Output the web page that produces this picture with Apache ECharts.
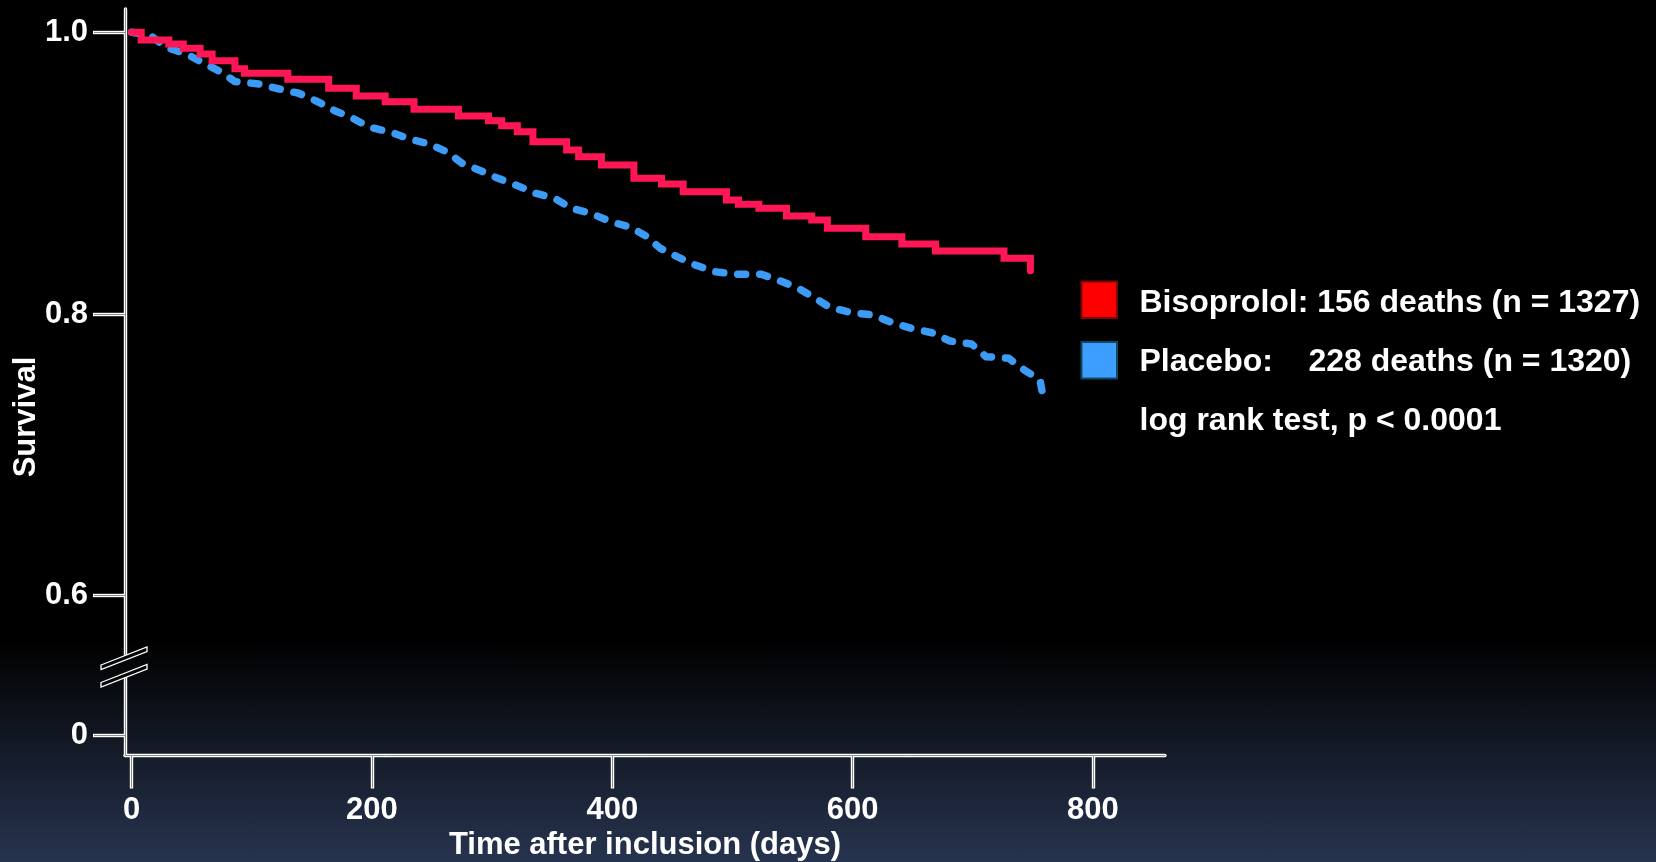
<!DOCTYPE html>
<html>
<head>
<meta charset="utf-8">
<script src="https://cdn.jsdelivr.net/npm/echarts@6/dist/echarts.min.js"></script>
<style>
  html, body { margin: 0; padding: 0; background: #000; }
  #chart {
    width: 1656px; height: 862px;
    background: linear-gradient(to bottom, #000 0%, #000 74%, #27344f 100%);
  }
</style>
</head>
<body>
<div id="chart"></div>
<script>
// Kaplan-Meier survival, Bisoprolol vs Placebo
const seriesNames = ['Bisoprolol', 'Placebo'];
const legendTexts = [
  'Bisoprolol: 156 deaths (n = 1327)',
  'Placebo:    228 deaths (n = 1320)'
];
const statText = 'log rank test, p < 0.0001';
const xTitle = 'Time after inclusion (days)';
const yTitle = 'Survival';

const xTicks = [0, 200, 400, 600, 800];
const yUpperTicks = [0.6, 0.8, 1.0];
const yLowerTicks = [0];

// Bisoprolol: step times (days) and survival after each step
const bisoDays = [0, 8, 31, 43, 57, 67, 86, 94, 130, 164, 187, 211, 235, 272, 297, 308, 321, 334, 362, 372,
  391, 418, 441, 459, 495, 505, 522, 545, 566, 579, 611, 641, 669, 726, 748];
const bisoSurv = [1.0, 0.9945, 0.9917, 0.9886, 0.9846, 0.9798, 0.974, 0.9709, 0.9666, 0.9602, 0.9548, 0.9507,
  0.9453, 0.9406, 0.9372, 0.9337, 0.9294, 0.9223, 0.9164, 0.9117, 0.9058, 0.8963, 0.8923, 0.8868, 0.8809,
  0.8779, 0.875, 0.8696, 0.8667, 0.8608, 0.8549, 0.8497, 0.8447, 0.8396, 0.8307];

// Placebo: survival estimates (days, survival)
const placDays = [0, 15, 29, 46, 60, 74, 86, 106, 123, 139, 155, 169, 183, 198, 216, 232, 248, 263, 275, 291,
  305, 321, 336, 352, 366, 382, 399, 415, 428, 440, 454, 469, 485, 504, 524, 540, 555, 569, 581, 599, 617,
  633, 649, 666, 681, 699, 711, 730, 743, 756, 759];
const placSurv = [1.0, 0.998, 0.9893, 0.9844, 0.978, 0.972, 0.965, 0.9633, 0.9597, 0.9567, 0.9507, 0.9443,
  0.9394, 0.9326, 0.929, 0.924, 0.9207, 0.9148, 0.907, 0.9015, 0.8963, 0.8911, 0.8857, 0.8821, 0.875, 0.8715,
  0.8655, 0.8616, 0.8554, 0.8466, 0.8407, 0.8348, 0.83, 0.8282, 0.8282, 0.8234, 0.8182, 0.8111, 0.8048,
  0.8009, 0.7993, 0.7938, 0.7898, 0.7867, 0.7808, 0.7787, 0.7697, 0.7685, 0.7602, 0.7531, 0.7389];

const FONT = '"Liberation Sans", Arial, Helvetica, sans-serif';
const X_MIN = -5.5, X_MAX = 860;
const UPPER_MIN = 0.5565, UPPER_MAX = 1.0165;   // upper (broken) segment of the survival axis
const LOWER_MIN = -0.01455, LOWER_MAX = 0.0419; // lower segment holding 0

const OUTER = '#ffffff', INNER = '#8e8e8e';
const labelStyle = { color: '#fff', fontSize: 31, fontWeight: 'bold', fontFamily: FONT };
const fmt = v => (v === 0 ? '0' : v.toFixed(1));

// each axis is drawn twice: a wide white stroke and a thin grey core on top
function xAxisPair(gridIndex) {
  const base = { gridIndex, type: 'value', min: X_MIN, max: X_MAX, position: 'bottom', offset: 0,
    splitLine: { show: false } };
  return [
    Object.assign({}, base, {
      axisLine: { show: true, onZero: false, lineStyle: { color: OUTER, width: 3.4 } },
      axisTick: { show: true, customValues: xTicks, length: 33, lineStyle: { color: OUTER, width: 3.4 } },
      axisLabel: Object.assign({ customValues: xTicks, margin: 39 }, labelStyle),
      name: xTitle, nameLocation: 'middle', nameGap: 74,
      nameTextStyle: { color: '#fff', fontSize: 31, fontWeight: 'bold', fontFamily: FONT }
    }),
    Object.assign({}, base, {
      z: 1,
      axisLine: { show: true, onZero: false, lineStyle: { color: INNER, width: 1 } },
      axisTick: { show: true, customValues: xTicks, length: 32, lineStyle: { color: INNER, width: 1 } },
      axisLabel: { show: false }
    })
  ];
}

function yAxisPair(gridIndex, min, max, ticks) {
  const base = { gridIndex, type: 'value', min, max, position: 'left', offset: 0,
    splitLine: { show: false } };
  return [
    Object.assign({}, base, {
      axisLine: { show: true, onZero: false, lineStyle: { color: OUTER, width: 3.4 } },
      axisTick: { show: true, customValues: ticks, length: 32, lineStyle: { color: OUTER, width: 3.4 } },
      axisLabel: Object.assign({ customValues: ticks, margin: 37, formatter: fmt }, labelStyle)
    }),
    Object.assign({}, base, {
      z: 1,
      axisLine: { show: true, onZero: false, lineStyle: { color: INNER, width: 1 } },
      axisTick: { show: true, customValues: ticks, length: 31, lineStyle: { color: INNER, width: 1 } },
      axisLabel: { show: false }
    })
  ];
}

const chart = echarts.init(document.getElementById('chart'), null, { renderer: 'canvas' });

const breakFill = '#040507';
const option = {
  animation: false,
  backgroundColor: 'transparent',
  grid: [
    { left: 125, right: 491, top: 9, height: 648, outerBoundsMode: 'none' },
    { left: 125, right: 491, top: 676, height: 79.5, outerBoundsMode: 'none' }
  ],
  xAxis: [
    { gridIndex: 0, type: 'value', min: X_MIN, max: X_MAX, show: false }
  ].concat(xAxisPair(1)),
  yAxis: [].concat(
    yAxisPair(0, UPPER_MIN, UPPER_MAX, yUpperTicks),
    yAxisPair(1, LOWER_MIN, LOWER_MAX, yLowerTicks)
  ),
  series: [
    {
      name: seriesNames[1], type: 'line', xAxisIndex: 0, yAxisIndex: 0,
      data: placDays.map((d, i) => [d, placSurv[i]]),
      symbol: 'none', z: 3,
      lineStyle: { color: '#3c9cf5', width: 7.5, type: [8, 14], cap: 'round', join: 'round' }
    },
    {
      name: seriesNames[0], type: 'line', xAxisIndex: 0, yAxisIndex: 0,
      data: bisoDays.map((d, i) => [d, bisoSurv[i]]),
      step: 'end', symbol: 'none', z: 4,
      lineStyle: { color: '#ff1654', width: 7, join: 'miter', cap: 'round' }
    }
  ],
  graphic: [
    // axis break marks
    { type: 'polygon', z: 10, shape: { points: [[101, 665], [147, 647], [147, 651.5], [101, 669.5]] },
      style: { fill: breakFill, stroke: '#fff', lineWidth: 1.3 } },
    { type: 'polygon', z: 10, shape: { points: [[101, 682.5], [147, 664.5], [147, 669], [101, 687]] },
      style: { fill: breakFill, stroke: '#fff', lineWidth: 1.3 } },
    // legend
    { type: 'rect', shape: { x: 1081.5, y: 281.5, width: 35.5, height: 36.5 },
      style: { fill: '#ff0000', stroke: '#7a0808', lineWidth: 2 } },
    { type: 'rect', shape: { x: 1081.5, y: 342, width: 35.5, height: 36.5 },
      style: { fill: '#3d9eff', stroke: '#0c4a66', lineWidth: 2 } },
    { type: 'text', x: 1139.5, y: 303.5,
      style: { text: legendTexts[0], fill: '#fff', fontSize: 32, fontWeight: 'bold', fontFamily: FONT, verticalAlign: 'middle' } },
    { type: 'text', x: 1139.5, y: 362,
      style: { text: legendTexts[1], fill: '#fff', fontSize: 32, fontWeight: 'bold', fontFamily: FONT, verticalAlign: 'middle' } },
    { type: 'text', x: 1139.5, y: 421,
      style: { text: statText, fill: '#fff', fontSize: 32, fontWeight: 'bold', fontFamily: FONT, verticalAlign: 'middle' } },
    // y axis title
    { type: 'text', x: 26, y: 417, rotation: Math.PI / 2,
      style: { text: yTitle, fill: '#fff', fontSize: 31, fontWeight: 'bold', fontFamily: FONT,
               align: 'center', verticalAlign: 'middle' } }
  ]
};
chart.setOption(option);
</script>
</body>
</html>
